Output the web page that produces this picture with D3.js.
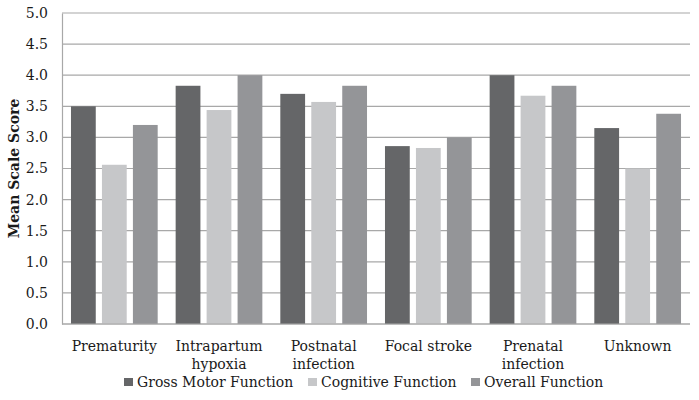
<!DOCTYPE html>
<html lang="en">
<head>
<meta charset="UTF-8">
<title>Mean Scale Score by Etiology</title>
<script src="https://d3js.org/d3.v7.min.js"></script>
<style>
    body { margin: 0; background: #fff; }
    text { font-family: "DejaVu Serif", serif; fill: #1a1a1a; }
</style>
</head>
<body>
<div id="chart"></div>
<script>
    // data
    const categories = ["Prematurity", "Intrapartum hypoxia", "Postnatal infection", "Focal stroke", "Prenatal infection", "Unknown"];
    const catLines = [["Prematurity"], ["Intrapartum", "hypoxia"], ["Postnatal", "infection"], ["Focal stroke"], ["Prenatal", "infection"], ["Unknown"]];
    const seriesNames = ["Gross Motor Function", "Cognitive Function", "Overall Function"];
    const grossMotor = [3.50, 3.83, 3.70, 2.86, 4.00, 3.15];
    const cognitive = [2.56, 3.44, 3.57, 2.83, 3.67, 2.50];
    const overall = [3.20, 4.00, 3.83, 3.00, 3.83, 3.38];
    const yTicks = [0, 0.5, 1, 1.5, 2, 2.5, 3, 3.5, 4, 4.5, 5];

    const colors = ["#656668", "#c6c7c9", "#949598"];
    const series = [grossMotor, cognitive, overall];

    const W = 699, H = 400;
    const m = { left: 62, right: 9, top: 13, bottom: 76 };

    const svg = d3.select("#chart").append("svg")
        .attr("width", W).attr("height", H);

    const x = d3.scaleBand().domain(categories)
        .range([m.left, W - m.right]).paddingInner(0).paddingOuter(0);
    const x1 = d3.scaleBand().domain(seriesNames)
        .range([0, x.bandwidth()]).paddingInner(0.2).paddingOuter(0.29);
    const y = d3.scaleLinear().domain([0, 5]).range([H - m.bottom, m.top]);

    // gridlines
    svg.append("g")
        .selectAll("line")
        .data(yTicks)
        .join("line")
        .attr("x1", m.left).attr("x2", W - m.right)
        .attr("y1", d => y(d)).attr("y2", d => y(d))
        .attr("stroke", "#a8a8a8").attr("stroke-width", 1.2);

    // y axis
    const yAxis = svg.append("g")
        .attr("transform", `translate(${m.left},0)`)
        .call(d3.axisLeft(y).tickValues(yTicks).tickFormat(d3.format(".1f")).tickSize(0).tickPadding(14));
    yAxis.select(".domain").attr("stroke", "#a8a8a8").attr("stroke-width", 1.2);
    yAxis.selectAll("text").style("font-size", "14px").attr("fill", "#1a1a1a");

    // bars
    const groups = svg.append("g")
        .selectAll("g")
        .data(categories)
        .join("g")
        .attr("transform", d => `translate(${x(d)},0)`);

    groups.selectAll("rect")
        .data((d, i) => seriesNames.map((s, j) => ({ s, v: series[j][i], c: colors[j] })))
        .join("rect")
        .attr("x", d => x1(d.s))
        .attr("width", x1.bandwidth())
        .attr("y", d => y(d.v))
        .attr("height", d => y(0) - y(d.v))
        .attr("fill", d => d.c);

    // redraw baseline on top of bars
    svg.append("line")
        .attr("x1", m.left).attr("x2", W - m.right)
        .attr("y1", y(0)).attr("y2", y(0))
        .attr("stroke", "#a8a8a8").attr("stroke-width", 1.2);

    // category labels
    svg.append("g")
        .selectAll("text")
        .data(categories)
        .join("text")
        .attr("text-anchor", "middle")
        .attr("x", d => x(d) + x.bandwidth() / 2)
        .attr("y", 351)
        .style("font-size", "14px")
        .each(function (d, i) {
            d3.select(this).selectAll("tspan")
                .data(catLines[i])
                .join("tspan")
                .attr("x", x(d) + x.bandwidth() / 2)
                .attr("dy", (t, k) => k === 0 ? 0 : 17.5)
                .text(t => t);
        });

    // y title
    svg.append("text")
        .attr("transform", `translate(19,${(y(0) + y(5)) / 2}) rotate(-90)`)
        .attr("text-anchor", "middle")
        .style("font-size", "14px")
        .style("font-weight", "bold")
        .text("Mean Scale Score");

    // legend
    const legendX = [124, 308, 471];
    const legend = svg.append("g")
        .selectAll("g")
        .data(seriesNames)
        .join("g")
        .attr("transform", (d, i) => `translate(${legendX[i]},378)`);
    legend.append("rect")
        .attr("width", 9).attr("height", 8)
        .attr("fill", (d, i) => colors[i]);
    legend.append("text")
        .attr("x", 13).attr("y", 9)
        .style("font-size", "14px")
        .text(d => d);
</script>
</body>
</html>
